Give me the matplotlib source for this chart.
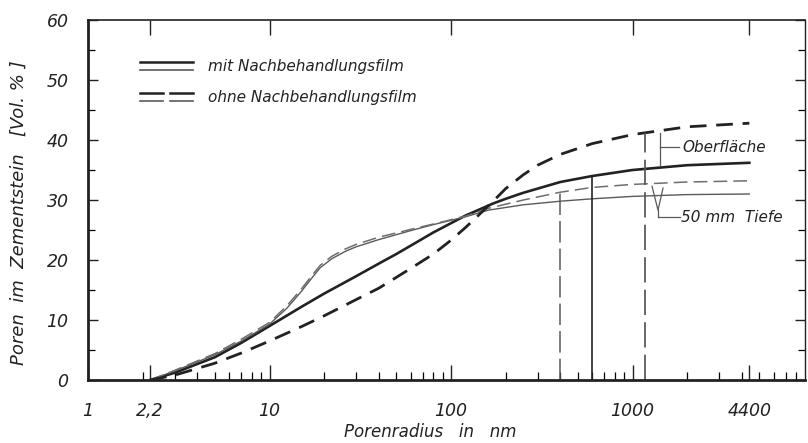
import matplotlib
matplotlib.use("Agg")
import matplotlib.pyplot as plt
from matplotlib.ticker import FixedLocator, NullFormatter

plt.rcParams['font.family'] = ['DejaVu Sans']
plt.rcParams['font.style'] = 'italic'

# ---- data (pore radius in nm, pore volume in Vol.-%) ----
x_mit_ober = [2.2, 3, 5, 7, 10, 15, 20, 30, 40, 50, 80, 120, 170, 200, 250, 400, 600, 1000, 2000, 4400]
y_mit_ober = [0, 1.2, 3.8, 6.2, 9.0, 12.2, 14.4, 17.3, 19.4, 21.0, 24.6, 27.4, 29.4, 30.2, 31.2, 33.0, 34.0, 35.0, 35.8, 36.2]

x_mit_tief = [2.2, 3, 5, 7, 10, 12.5, 15, 17, 19, 22, 26, 30, 40, 60, 80, 120, 160, 250, 400, 600, 1000, 2000, 4400]
y_mit_tief = [0, 1.5, 4.2, 6.5, 9.3, 12.0, 14.8, 16.9, 18.7, 20.2, 21.4, 22.2, 23.4, 24.9, 25.9, 27.2, 28.3, 29.2, 29.8, 30.2, 30.6, 30.9, 31.0]

x_ohne_tief = [2.2, 3, 5, 7, 10, 12.5, 15, 17, 19, 22, 26, 30, 40, 60, 80, 120, 160, 250, 400, 600, 1000, 2000, 4400]
y_ohne_tief = [0, 1.6, 4.4, 6.8, 9.6, 12.4, 15.2, 17.3, 19.1, 20.6, 21.8, 22.6, 23.8, 25.1, 26.0, 27.3, 28.6, 30.0, 31.3, 32.1, 32.6, 33.0, 33.2]

x_ohne_ober = [2.2, 3, 5, 7, 10, 15, 20, 30, 40, 60, 80, 100, 120, 140, 160, 180, 200, 250, 300, 400, 600, 1000, 2000, 4400]
y_ohne_ober = [0, 0.8, 2.8, 4.5, 6.5, 8.9, 10.7, 13.4, 15.3, 18.6, 21.0, 23.3, 25.4, 27.3, 29.0, 30.5, 31.9, 34.2, 35.8, 37.6, 39.4, 40.9, 42.2, 42.8]

# median radii (vertical marker lines) and their heights
x_med = [398, 598, 1172]
y_med = [31.3, 34.0, 41.1]

x_ticks = [1, 2.2, 10, 100, 1000, 4400]
x_ticklabels = ['1', '2,2', '10', '100', '1000', '4400']
y_ticks = [0, 10, 20, 30, 40, 50, 60]

legend_labels = ['mit Nachbehandlungsfilm', 'ohne Nachbehandlungsfilm']

# ---- figure ----
fig = plt.figure(figsize=(8.08, 4.43), dpi=100)
ax = fig.add_axes([88/808, 63/443, 717/808, 360/443])
ax.set_xscale('log')
ax.set_xlim(1, 10**3.95)
ax.set_ylim(0, 60)

dark = '#222222'
grey = '#5a5a5a'
lgrey = '#6e6e6e'

ax.plot(x_mit_ober, y_mit_ober, color=dark, lw=1.9, solid_joinstyle='round')
ax.plot(x_mit_tief, y_mit_tief, color=grey, lw=1.0, solid_joinstyle='round')
ax.plot(x_ohne_tief, y_ohne_tief, color=lgrey, lw=1.1, dashes=(9, 4))
ax.plot(x_ohne_ober, y_ohne_ober, color=dark, lw=2.0, dashes=(6, 3.5))

ax.plot([x_med[0]] * 2, [0, y_med[0]], color=grey, lw=1.1, dashes=(14, 4))
ax.plot([x_med[1]] * 2, [0, y_med[1]], color=dark, lw=1.2)
ax.plot([x_med[2]] * 2, [0, y_med[2]], color=grey, lw=1.3, dashes=(14, 4))

# brackets / annotation text
ax.plot([1417, 1417], [35.8, 41.2], color=grey, lw=0.9)
ax.plot([1417, 1800], [38.8, 38.8], color=grey, lw=0.9)
ax.text(1880, 38.8, 'Oberfläche', fontsize=11, va='center', ha='left', color=dark)
ax.plot([1280, 1381, 1472], [32.3, 28.3, 32.0], color=grey, lw=0.9)
ax.plot([1381, 1381], [28.3, 27.1], color=grey, lw=0.9)
ax.plot([1381, 1830], [27.1, 27.1], color=grey, lw=0.9)
ax.text(1860, 27.1, '50 mm  Tiefe', fontsize=11, va='center', ha='left', color=dark)

# legend drawn manually
tr = ax.transAxes
ax.plot([0.0725, 0.1464], [0.883, 0.883], transform=tr, color=dark, lw=1.8)
ax.plot([0.0725, 0.1464], [0.860, 0.860], transform=tr, color=grey, lw=1.2)
for x0, x1 in [(0.0725, 0.105), (0.115, 0.1464)]:
    ax.plot([x0, x1], [0.796, 0.796], transform=tr, color=dark, lw=1.8)
    ax.plot([x0, x1], [0.774, 0.774], transform=tr, color=grey, lw=1.2)
ax.text(0.167, 0.872, legend_labels[0], transform=tr, fontsize=11, va='center', color=dark)
ax.text(0.167, 0.785, legend_labels[1], transform=tr, fontsize=11, va='center', color=dark)

# axes styling
for s in ax.spines.values():
    s.set_color(dark)
ax.spines['left'].set_linewidth(2.0)
ax.spines['bottom'].set_linewidth(2.0)
ax.spines['top'].set_linewidth(1.2)
ax.spines['right'].set_linewidth(1.0)

ax.xaxis.set_major_locator(FixedLocator(x_ticks))
ax.set_xticklabels(x_ticklabels)
minor = [m * 10**e for e in range(0, 4) for m in range(2, 10)]
ax.xaxis.set_minor_locator(FixedLocator(minor))
ax.xaxis.set_minor_formatter(NullFormatter())
ax.yaxis.set_major_locator(FixedLocator(y_ticks))
ax.yaxis.set_minor_locator(FixedLocator([5, 15, 25, 35, 45, 55]))

ax.tick_params(axis='both', which='major', direction='in', labelsize=12.5, colors=dark,
               top=True, right=True)
ax.tick_params(axis='x', which='major', length=11, width=1.0, pad=16)
ax.tick_params(axis='y', which='major', length=7, width=1.0, pad=14)
ax.tick_params(axis='x', which='minor', direction='in', length=6, width=0.9, top=False)
ax.tick_params(axis='y', which='minor', direction='in', length=5, width=0.9, right=True)

fig.text(19/808, 0.5 + 0.02, 'Poren  im  Zementstein   [Vol. % ]', rotation=90,
         ha='center', va='center', fontsize=13, color=dark)
fig.text(430/808, 1 - 432/443, 'Porenradius   in   nm', ha='center', va='center',
         fontsize=12, color=dark)

fig.savefig('out.png', dpi=100, facecolor='white')
